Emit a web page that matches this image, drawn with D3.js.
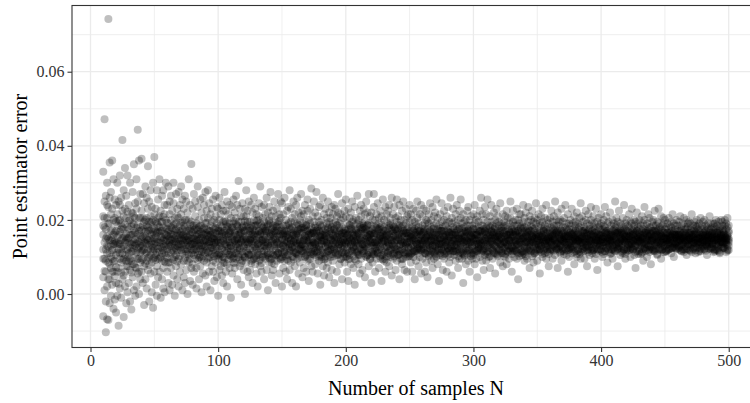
<!DOCTYPE html>
<html><head><meta charset="utf-8">
<script src="https://cdn.jsdelivr.net/npm/d3@7"></script>
<style>
body{margin:0;background:#fff}
svg{display:block}
text{font-family:"Liberation Serif","Times New Roman",serif}
</style>
</head><body>
<svg id="chart" width="750" height="403"></svg>
<script>
// Sample sizes run from firstN upward, one row of estimator errors per N (values in units of 1e-4)
const firstN = 10;
const errorsE4 = [
[210,45,160,-60,330,120,95,185],[472,95,180,250,10,140,62,205],[-103,120,265,60,150,175,90,-20],[-68,300,130,205,20,155,110,240],[742,-70,150,85,235,128,190,40],
[355,40,190,110,-25,145,80,260],[170,275,-5,130,70,215,100,152],[25,230,145,360,95,118,172,60],[120,-40,200,310,60,160,135,88],[255,90,165,-15,135,205,48,142],
[170,30,240,105,-50,138,195,72],[300,140,60,215,185,112,-5,155],[-86,120,250,70,160,198,135,28],[200,15,320,135,95,168,240,110],[85,260,145,-10,190,122,58,175],
[416,110,40,225,150,92,180,128],[-62,175,95,280,130,210,152,50],[230,60,155,340,20,140,105,188],[120,205,-25,90,265,162,145,75],[150,320,75,180,5,118,222,98],
[110,240,30,175,140,198,88,152],[200,65,300,125,-20,160,138,95],[-42,160,90,220,135,182,115,58],[275,115,45,190,160,132,218,80],[80,210,140,350,10,170,122,188],
[165,-5,245,100,130,148,205,72],[230,70,150,20,310,112,178,135],[443,120,185,55,250,142,95,162],[95,170,360,140,0,205,125,60],[205,40,130,270,85,158,112,180],
[150,60,225,115,365,172,135,92],[30,185,130,270,95,155,205,118],[175,245,75,-30,140,120,195,152],[110,200,155,290,40,138,82,168],[260,90,135,15,185,148,112,205],
[65,170,230,120,345,145,98,180],[195,-20,100,150,250,132,172,78],[140,280,55,210,120,162,105,188],[85,160,235,5,175,128,195,142],[-37,125,200,95,300,150,168,115],
[370,150,60,215,120,135,178,98],[105,230,170,25,140,158,92,195],[190,75,280,130,-5,148,112,165],[140,255,95,185,45,122,168,205],[60,165,310,115,210,138,180,95],
[225,100,145,-10,170,128,195,155],[125,195,40,265,90,152,172,110],[280,135,180,70,15,145,118,208],[150,5,215,110,240,162,128,88],[85,200,160,300,130,142,105,178],
[175,60,240,120,145,158,98,192],[110,290,30,190,155,132,168,85],[215,140,85,10,250,128,172,150],[70,180,130,265,200,145,112,162],[160,25,225,95,135,178,148,118],
[245,115,185,50,300,138,160,92],[100,205,150,-5,170,125,188,142],[190,75,270,140,120,158,105,175],[130,230,40,165,210,148,118,88],[275,95,150,205,20,135,170,128],
[60,170,125,240,185,145,102,158],[215,135,290,80,150,118,165,192],[145,10,195,110,255,160,132,175],[90,230,160,185,45,138,120,152],[180,120,265,30,140,155,98,200],
[250,65,145,200,115,170,132,158],[120,220,90,155,0,140,178,108],[200,150,310,105,170,128,145,85],[35,175,130,240,95,160,188,142],[351,110,195,150,70,122,168,135],
[165,80,230,135,25,150,118,185],[120,270,185,60,150,138,105,172],[210,140,95,250,175,128,158,112],[70,190,155,15,120,145,178,132],[235,105,160,290,135,148,92,172],
[145,40,200,115,180,162,130,98],[185,255,75,150,100,138,168,122],[95,165,220,130,5,152,115,185],[260,120,175,55,145,132,162,102],[130,205,90,240,160,142,112,178],
[50,150,190,110,275,165,128,145],[175,85,225,140,20,158,118,192],[205,130,160,280,95,148,172,112],[115,245,60,170,140,135,155,98],[160,100,215,10,185,142,125,170],
[230,140,75,195,125,160,108,150],[90,180,255,150,60,132,165,118],[145,35,200,120,175,155,138,102],[265,110,165,85,210,140,128,178],[125,190,45,150,235,162,105,145],
[170,95,230,140,-5,106,147,179],[110,200,155,260,65,129,170,102],[185,130,75,215,145,170,106,138],[50,165,240,120,180,161,124,93],[225,100,150,30,195,143,84,165],
[135,275,85,170,115,98,156,197],[195,60,145,225,160,188,134,111],[80,175,130,250,20,116,183,147],[155,215,105,180,140,124,93,161],[240,125,190,70,165,106,138,170],
[115,160,-10,205,130,170,102,129],[180,95,235,150,55,147,179,106],[140,255,120,190,85,156,98,197],[70,170,145,220,110,165,143,84],[205,130,265,95,160,111,134,188],
[150,40,185,125,240,147,116,183],[100,195,160,305,135,138,170,106],[230,120,75,175,150,93,161,124],[165,210,140,25,195,84,165,143],[90,145,245,115,180,179,106,147],
[185,65,155,210,125,102,129,170],[135,230,100,170,0,197,156,98],[210,150,280,85,140,183,147,116],[60,175,195,125,225,134,188,111],[160,105,140,250,45,170,138,106],
[195,120,65,170,145,106,147,179],[105,240,150,185,90,143,84,165],[175,135,220,30,160,161,124,93],[140,200,95,155,260,116,183,147],[230,80,165,125,185,129,170,102],
[120,185,145,215,55,98,156,197],[160,20,200,135,105,188,134,111],[210,150,90,245,170,106,138,170],[75,165,130,190,290,124,161,93],[185,115,235,145,60,165,143,84],
[145,205,100,170,125,147,106,179],[240,130,160,40,195,147,116,183],[95,175,215,140,150,102,170,129],[165,65,125,260,180,138,106,170],[130,220,185,105,10,111,188,134],
[200,145,85,165,235,156,197,98],[110,190,155,275,130,93,124,161],[175,50,210,140,95,84,143,165],[225,160,120,185,65,179,147,106],[80,135,250,170,150,170,129,102],
[190,105,165,30,210,183,116,147],[140,230,90,155,180,106,170,138],[160,195,125,270,110,134,111,188],[55,170,145,215,135,156,98,197],[205,120,180,95,250,124,93,161],
[150,245,100,175,20,112,145,171],[185,130,215,70,160,131,164,108],[115,170,145,260,90,164,112,138],[200,60,185,135,155,157,127,101],[140,225,105,170,40,142,94,160],
[90,160,235,125,190,105,153,186],[175,120,150,280,65,179,134,116],[230,145,85,195,135,120,175,145],[125,205,165,30,180,127,101,157],[160,100,250,140,115,94,160,142],
[195,75,130,215,150,145,171,112],[110,185,160,240,20,112,138,164],[170,135,95,190,260,164,108,131],[145,220,120,55,175,153,186,105],[85,165,200,140,130,175,145,120],
[210,125,155,270,100,134,116,179],[135,190,45,165,225,116,179,134],[180,110,145,215,70,145,120,175],[155,240,100,175,130,101,157,127],[60,150,195,120,185,186,105,153],
[225,140,170,90,255,171,112,145],[120,200,160,35,145,160,142,94],[175,95,230,130,190,138,164,112],[285,160,115,180,75,108,131,164],[140,210,145,60,165,131,164,108],
[195,105,170,250,125,164,112,138],[80,185,135,155,220,179,134,116],[165,125,275,100,150,112,145,171],[210,55,180,140,115,120,175,145],[130,170,90,235,195,157,127,101],
[155,240,120,165,25,105,153,186],[100,145,200,180,135,142,94,160],[185,75,160,260,120,145,112,171],[145,215,110,150,50,160,94,142],[230,130,175,95,165,127,157,101],
[70,190,140,205,155,112,164,138],[175,115,250,130,85,134,179,116],[135,160,45,195,220,153,105,186],[205,100,150,170,120,175,120,145],[120,235,180,65,145,108,164,131],
[160,90,215,140,190,101,127,157],[240,150,125,175,30,145,175,120],[110,195,165,230,135,171,145,112],[185,60,140,155,210,186,153,105],[145,220,105,270,125,131,108,164],
[80,170,190,135,160,116,134,179],[200,125,95,215,150,94,142,160],[155,245,130,40,180,138,112,164],[120,165,205,145,100,112,145,171],[175,85,150,225,140,131,164,108],
[135,210,100,170,255,164,112,138],[190,145,60,160,120,157,127,101],[110,175,230,140,35,142,94,160],[165,95,150,205,185,105,153,186],[220,130,175,80,145,179,134,116],
[140,250,115,160,195,120,175,145],[70,165,200,125,150,127,101,157],[185,120,140,235,25,94,160,142],[155,205,90,175,130,145,171,112],[115,145,190,265,160,112,138,164],
[200,80,165,135,105,164,108,131],[150,225,125,180,55,153,186,105],[95,170,210,145,240,175,145,120],[175,135,155,65,190,134,116,179],[230,110,185,150,125,116,179,134],
[130,195,45,165,215,145,120,175],[165,250,140,100,175,101,157,127],[105,155,220,185,135,186,105,153],[190,75,150,125,270,171,112,145],[145,210,170,95,160,160,142,94],
[220,130,185,30,150,138,164,112],[85,175,140,200,115,108,131,164],[160,235,105,155,270,131,164,108],[200,140,60,180,125,164,112,138],[125,185,215,145,95,179,134,116],
[175,110,160,245,140,112,145,171],[150,205,130,70,190,120,175,145],[95,165,180,225,155,157,127,101],[210,140,120,165,35,105,153,186],[135,255,175,105,150,142,94,160],
[180,90,145,200,125,145,112,171],[115,170,235,155,60,160,94,142],[160,130,195,85,215,127,157,101],[225,150,110,175,140,112,164,138],[75,185,160,130,240,134,179,116],
[190,120,205,145,100,153,105,186],[145,260,135,170,50,175,120,145],[170,95,155,215,185,108,164,131],[110,180,140,235,125,101,127,157],[205,65,165,150,175,145,175,120],
[130,195,120,255,90,171,145,112],[175,145,210,105,160,186,153,105],[240,115,150,185,40,131,108,164],[95,165,135,200,145,116,134,179],[155,225,180,80,120,94,142,160],
[185,130,95,170,250,138,112,164],[120,200,155,140,65,112,145,171],[165,100,230,190,135,131,164,108],[140,175,60,150,210,164,112,138],[215,125,165,110,180,157,127,101],
[150,195,105,170,240,141,102,156],[125,160,215,85,145,129,108,153],[180,135,60,200,155,177,111,150],[100,170,145,230,120,159,114,132],[195,150,115,175,40,117,144,165],
[140,225,165,90,185,138,159,117],[160,110,205,135,250,120,171,135],[75,180,150,190,125,144,123,168],[215,130,170,100,155,171,135,120],[145,240,120,160,55,117,138,159],
[185,95,150,210,135,165,117,144],[120,165,230,140,175,123,168,144],[170,60,145,190,110,150,177,111],[135,200,155,85,225,108,153,129],[195,125,175,150,45,132,159,114],
[105,160,215,135,190,156,141,102],[155,245,110,170,130,168,144,123],[180,90,150,200,145,144,165,117],[130,175,235,120,70,114,132,159],[165,140,95,185,210,111,150,177],
[220,115,160,145,130,153,129,108],[100,190,135,255,165,102,156,141],[150,80,175,205,120,159,117,138],[185,145,125,160,35,135,120,171],[135,215,170,105,150,177,111,150],
[170,120,195,140,245,120,171,135],[115,160,65,180,135,141,102,156],[200,150,225,95,170,129,153,108],[140,185,130,155,110,138,117,159],[60,170,210,145,190,159,132,114],
[175,105,150,235,125,123,144,168],[155,195,120,85,165,165,144,117],[125,140,260,175,100,108,129,153],[190,160,135,205,50,144,168,123],[145,230,115,160,180,117,159,138],
[105,175,150,195,130,144,117,165],[215,125,90,165,150,132,114,159],[160,185,140,240,115,171,120,135],[130,70,175,150,200,156,102,141],[180,150,225,120,95,150,111,177],
[140,205,165,135,255,114,159,132],[95,160,190,145,120,177,150,111],[170,115,140,215,30,153,108,129],[150,180,105,165,195,102,141,156],[200,135,155,80,170,168,123,144],
[125,225,145,185,110,117,165,144],[165,90,175,140,235,135,171,120],[185,150,120,200,60,159,138,117],[110,170,210,155,140,141,156,102],[150,130,185,95,165,129,108,153],
[175,140,215,105,160,111,177,150],[120,190,150,240,80,159,114,132],[160,135,175,95,200,144,117,165],[145,210,115,160,45,117,159,138],[195,125,150,180,135,135,120,171],
[100,170,225,140,155,168,144,123],[155,260,130,185,110,120,135,171],[185,90,165,145,215,138,159,117],[130,175,200,120,65,165,144,117],[170,150,105,235,140,144,123,168],
[215,135,160,180,90,150,111,177],[115,255,145,165,195,108,153,129],[150,185,125,100,175,114,132,159],[180,70,160,210,135,156,102,141],[140,195,170,150,240,123,168,144],
[95,160,135,185,120,165,117,144],[165,220,150,110,175,132,114,159],[200,130,180,155,55,177,150,111],[125,165,145,230,190,129,153,108],[155,105,210,140,170,102,156,141],
[185,145,120,195,160,117,138,159],[135,245,165,85,150,171,120,135],[170,115,190,150,130,111,150,177],[110,180,155,215,75,135,171,120],[195,140,125,165,185,141,102,156],
[150,210,170,100,140,153,129,108],[80,160,185,135,225,159,117,138],[175,130,150,205,115,132,159,114],[145,190,95,170,160,144,168,123],[205,120,165,150,250,117,165,144],
[125,175,140,185,60,153,108,129],[160,225,115,155,195,123,144,168],[185,100,175,145,130,138,117,159],[140,165,200,120,170,144,165,117],[95,155,135,230,185,159,114,132],
[170,200,150,110,40,120,135,171],[130,145,190,165,215,102,141,156],[215,120,155,180,140,150,111,177],[150,185,105,135,170,132,114,159],[115,240,165,150,195,177,111,150],
[180,135,125,205,90,108,153,129],[160,170,220,140,115,156,141,102],[140,95,155,185,165,168,123,144],[195,150,175,120,235,117,144,165],[125,210,140,160,70,171,135,120],
[170,115,185,145,200,117,159,138],[150,180,130,225,155,141,156,102],[85,160,195,140,175,129,108,153],[205,135,150,170,110,111,177,150],[140,190,120,155,245,159,132,114],
[165,125,200,150,90,120,143,161],[180,145,135,215,160,156,118,133],[120,170,190,140,55,138,156,121],[155,210,130,165,185,113,150,130],[195,100,160,145,230,141,108,153],
[140,175,150,120,170,171,116,148],[110,155,205,185,135,136,123,166],[175,240,145,130,95,163,143,126],[150,120,180,165,200,130,113,150],[130,190,155,75,145,153,141,108],
[205,140,170,150,115,161,120,143],[160,225,125,180,140,121,138,156],[95,165,150,195,175,133,156,118],[185,130,210,145,160,148,171,116],[145,175,105,155,250,126,163,143],
[120,200,165,135,185,166,136,123],[170,150,140,220,70,123,166,136],[155,185,120,160,195,143,126,163],[200,110,175,145,130,150,130,113],[135,160,230,150,90,116,148,171],
[165,195,145,125,180,143,161,120],[140,115,170,205,155,108,153,141],[180,150,135,160,240,156,121,138],[105,175,190,140,150,118,133,156],[160,215,125,170,60,156,118,133],
[190,140,155,100,175,138,121,156],[125,165,200,145,185,136,166,123],[150,230,160,130,110,120,161,143],[175,120,145,190,155,163,126,143],[210,155,80,165,140,113,130,150],
[135,185,170,150,195,171,148,116],[160,100,145,220,130,141,153,108],[145,175,190,120,165,161,143,120],[115,150,135,205,180,108,141,153],[185,160,245,140,95,150,113,130],
[150,130,170,155,210,121,156,138],[170,195,115,145,135,166,123,136],[95,155,180,165,150,148,116,171],[200,140,125,175,225,126,143,163],[130,165,150,190,75,133,118,156],
[160,215,140,120,170,130,150,113],[175,105,185,150,145,163,143,126],[140,160,200,135,235,120,143,161],[190,125,155,170,110,171,116,148],[120,180,145,210,160,156,133,118],
[155,140,175,95,190,123,136,166],[165,230,130,150,145,153,108,141],[145,170,195,115,65,138,156,121],[180,150,135,160,205,143,120,161],[130,185,160,140,175,118,156,133],
[160,120,190,145,215,156,138,121],[140,175,150,100,165,150,113,130],[185,155,130,200,140,108,141,153],[115,165,180,150,235,148,171,116],[170,140,210,125,160,166,123,136],
[150,190,85,170,145,126,143,163],[195,135,160,150,120,113,130,150],[130,175,145,220,165,153,108,141],[160,110,185,155,140,161,143,120],[145,200,170,130,95,121,156,138],
[175,150,125,190,160,133,118,156],[250,140,165,115,180,116,171,148],[135,185,155,145,205,143,163,126],[165,120,195,170,75,136,166,123],[150,160,140,225,130,123,136,166],
[190,145,175,105,155,163,126,143],[125,170,150,185,165,130,150,113],[160,205,135,145,110,171,148,116],[180,150,165,120,240,120,161,143],[140,190,155,175,95,141,153,108],
[115,160,145,200,170,138,121,156],[170,135,185,150,125,156,133,118],[155,215,140,165,180,118,156,133],[195,125,160,100,145,156,138,121],[135,175,150,190,230,136,123,166],
[160,145,120,170,155,143,120,161],[185,105,175,140,200,126,163,143],[145,165,195,130,70,150,113,130],[170,220,150,160,135,116,148,171],[125,155,180,145,190,108,153,141],
[200,140,165,115,175,161,120,143],[150,185,130,155,160,141,108,153],[110,170,210,145,135,113,150,130],[175,150,160,190,90,121,138,156],[140,200,125,165,235,166,136,123],
[165,135,185,150,120,148,116,171],[190,160,145,100,170,143,126,163],[130,175,215,155,145,118,133,156],[155,120,165,180,205,150,130,113],[180,145,135,160,80,126,143,163],
[145,195,170,125,150,120,161,143],[120,165,150,200,185,171,148,116],[170,140,225,155,115,133,156,118],[160,185,130,145,175,123,166,136],[195,105,160,170,140,153,141,108],
[135,175,150,190,230,138,121,156],[155,125,180,140,165,143,161,120],[175,210,145,160,95,156,118,133],[140,155,120,185,170,121,156,138],[165,190,150,135,205,113,150,130],
[150,175,130,165,200,140,113,151],[180,140,155,115,160,132,117,149],[135,165,190,150,145,165,119,146],[160,120,175,205,140,153,121,134],[145,185,150,130,165,123,142,157],
[170,155,110,180,195,138,153,123],[125,160,145,170,215,125,161,136],[190,140,165,150,100,142,128,159],[155,175,135,160,185,161,136,125],[140,200,160,120,150,123,138,153],
[175,145,185,155,130,157,123,142],[160,125,150,195,170,128,159,142],[130,170,155,145,210,146,165,119],[185,150,175,115,160,117,149,132],[150,135,165,190,140,134,153,121],
[165,205,145,155,120,151,140,113],[120,160,180,140,175,159,142,128],[175,145,155,200,105,142,157,123],[145,180,130,165,190,121,134,153],[160,150,195,135,155,119,146,165],
[190,125,165,150,175,149,132,117],[135,170,145,215,160,113,151,140],[155,185,120,160,140,153,123,138],[170,140,175,195,150,136,125,161],[145,160,130,110,185,165,119,146],
[180,150,165,145,200,125,161,136],[125,175,155,185,140,140,113,151],[160,135,190,150,170,132,149,117],[150,205,140,165,115,138,123,153],[175,145,160,130,185,153,134,121],
[140,165,195,155,150,128,142,159],[165,120,175,145,200,157,142,123],[185,155,135,170,160,117,132,149],[130,150,180,140,105,142,159,128],[160,190,155,175,145,123,153,138],
[145,135,165,210,170,142,123,157],[175,160,125,150,190,134,121,153],[155,180,145,165,135,161,125,136],[120,170,190,140,155,151,113,140],[190,145,160,180,115,146,119,165],
[150,175,135,155,200,121,153,134],[165,130,185,145,160,165,146,119],[140,195,150,170,125,149,117,132],[175,155,165,110,180,113,140,151],[155,140,200,160,145,159,128,142],
[135,185,150,175,195,123,157,142],[170,150,125,165,140,136,161,125],[185,160,145,200,155,153,138,123],[145,175,135,150,190,140,151,113],[160,120,180,155,205,132,117,149],
[150,170,140,185,130,119,165,146]
];

const xTicks = [0, 100, 200, 300, 400, 500];
const xMinorBreaks = [50, 150, 250, 350, 450, 550];
const yTicks = [0, 0.02, 0.04, 0.06];
const yMinorBreaks = [-0.01, 0.01, 0.03, 0.05, 0.07];
const xLimits = [-14.5, 524.5];
const yLimits = [-0.01444, 0.07787];
const xTitle = "Number of samples N";
const yTitle = "Point estimator error";

const points = errorsE4.flatMap((row, i) => row.map(v => ({ n: firstN + i, err: v / 1e4 })));

const svg = d3.select("#chart");
const panel = { left: 72, top: 5.5, bottom: 347.5, right: 760 };

const x = d3.scaleLinear().domain(xLimits).range([panel.left, panel.right]);
const y = d3.scaleLinear().domain(yLimits).range([panel.bottom, panel.top]);

svg.append("rect").attr("width", 750).attr("height", 403).attr("fill", "#fff");

const grid = svg.append("g");
grid.selectAll("line.xmin").data(xMinorBreaks).join("line")
  .attr("x1", d => x(d)).attr("x2", d => x(d)).attr("y1", panel.top).attr("y2", panel.bottom)
  .attr("stroke", "#ebebeb").attr("stroke-width", 0.8);
grid.selectAll("line.ymin").data(yMinorBreaks).join("line")
  .attr("y1", d => y(d)).attr("y2", d => y(d)).attr("x1", panel.left).attr("x2", panel.right)
  .attr("stroke", "#ebebeb").attr("stroke-width", 0.8);
grid.selectAll("line.xmaj").data(xTicks).join("line")
  .attr("x1", d => x(d)).attr("x2", d => x(d)).attr("y1", panel.top).attr("y2", panel.bottom)
  .attr("stroke", "#ebebeb").attr("stroke-width", 1.3);
grid.selectAll("line.ymaj").data(yTicks).join("line")
  .attr("y1", d => y(d)).attr("y2", d => y(d)).attr("x1", panel.left).attr("x2", panel.right)
  .attr("stroke", "#ebebeb").attr("stroke-width", 1.3);

svg.append("g").selectAll("circle").data(points).join("circle")
  .attr("cx", d => x(d.n)).attr("cy", d => y(d.err)).attr("r", 4)
  .attr("fill", "#000").attr("fill-opacity", 0.25);

svg.append("rect")
  .attr("x", panel.left).attr("y", panel.top)
  .attr("width", panel.right - panel.left).attr("height", panel.bottom - panel.top)
  .attr("fill", "none").attr("stroke", "#333").attr("stroke-width", 1.1);

const xAxis = svg.append("g").attr("transform", `translate(0,${panel.bottom})`)
  .call(d3.axisBottom(x).tickValues(xTicks).tickFormat(d3.format("d")).tickSize(4.5).tickPadding(3));
const yAxis = svg.append("g").attr("transform", `translate(${panel.left},0)`)
  .call(d3.axisLeft(y).tickValues(yTicks).tickFormat(d3.format(".2f")).tickSize(4.5).tickPadding(3));
[xAxis, yAxis].forEach(a => {
  a.select(".domain").remove();
  a.selectAll(".tick line").attr("stroke", "#333").attr("stroke-width", 1.1);
  a.selectAll(".tick text").attr("fill", "#333").attr("font-size", 16)
    .attr("font-family", "'Liberation Serif', serif");
});

svg.append("text").attr("x", (panel.left + panel.right) / 2).attr("y", 395)
  .attr("text-anchor", "middle").attr("font-size", 20).attr("fill", "#000").text(xTitle);
svg.append("text").attr("transform", `translate(27,${(panel.top + panel.bottom) / 2}) rotate(-90)`)
  .attr("text-anchor", "middle").attr("font-size", 20).attr("fill", "#000").text(yTitle);
</script>
</body></html>
